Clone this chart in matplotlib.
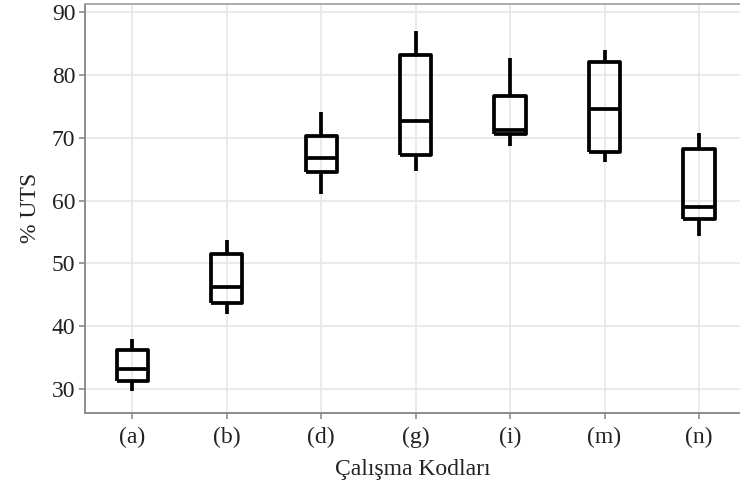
import matplotlib
matplotlib.use("Agg")
import matplotlib.pyplot as plt

categories = ["(a)", "(b)", "(d)", "(g)", "(i)", "(m)", "(n)"]
whisker_low = [29.6, 41.9, 61.0, 64.7, 68.7, 66.2, 54.4]
q1 = [31.2, 43.7, 64.5, 67.2, 70.6, 67.8, 57.1]
median = [33.1, 46.2, 66.8, 72.6, 71.3, 74.5, 58.9]
q3 = [36.2, 51.4, 70.3, 83.1, 76.7, 82.1, 68.2]
whisker_high = [38.0, 53.7, 74.1, 87.0, 82.7, 84.0, 70.8]
y_ticks = [30, 40, 50, 60, 70, 80, 90]

plt.rcParams['font.family'] = ['Liberation Serif', 'DejaVu Serif']

fig = plt.figure(figsize=(7.40, 4.93), dpi=100)
ax = fig.add_axes([85/740, 1-412.7/493, 1-85/740, (412.7-4)/493])

stats = []
for i, c in enumerate(categories):
    stats.append(dict(label=c, whislo=whisker_low[i], q1=q1[i], med=median[i],
                      q3=q3[i], whishi=whisker_high[i], fliers=[]))

lw = 2.7
props = dict(color='black', linewidth=lw, solid_joinstyle='round', solid_capstyle='butt')
ax.bxp(stats, positions=range(1, len(categories)+1), widths=0.33, showfliers=False,
       showcaps=False, patch_artist=False,
       boxprops=props, whiskerprops=props, medianprops=props, zorder=3)

ax.set_xlim(0.5, 7.434)
ax.set_ylim(26.2, 91.3)
ax.set_yticks(y_ticks)
ax.set_xticks(range(1, len(categories)+1))
ax.set_xticklabels(categories)

ax.grid(True, color='#e6e6e6', linewidth=1.2, zorder=0)
ax.set_axisbelow(True)
for s in ['left', 'bottom', 'top']:
    ax.spines[s].set_color('#8c8c8c')
    ax.spines[s].set_linewidth(1.4)
ax.spines['top'].set_color('#aaaaaa')
ax.spines['right'].set_visible(False)
ax.tick_params(axis='both', colors='#8c8c8c', length=4, width=1.2, labelsize=17,
               labelcolor='#222222')
ax.tick_params(axis='x', pad=6)
ax.tick_params(axis='y', pad=3)

ax.set_xlabel('Çalışma Kodları', fontsize=17, color='#222222', labelpad=8)
ax.set_ylabel('% UTS', fontsize=17, color='#222222', labelpad=8)

fig.savefig('out.png', dpi=100)
